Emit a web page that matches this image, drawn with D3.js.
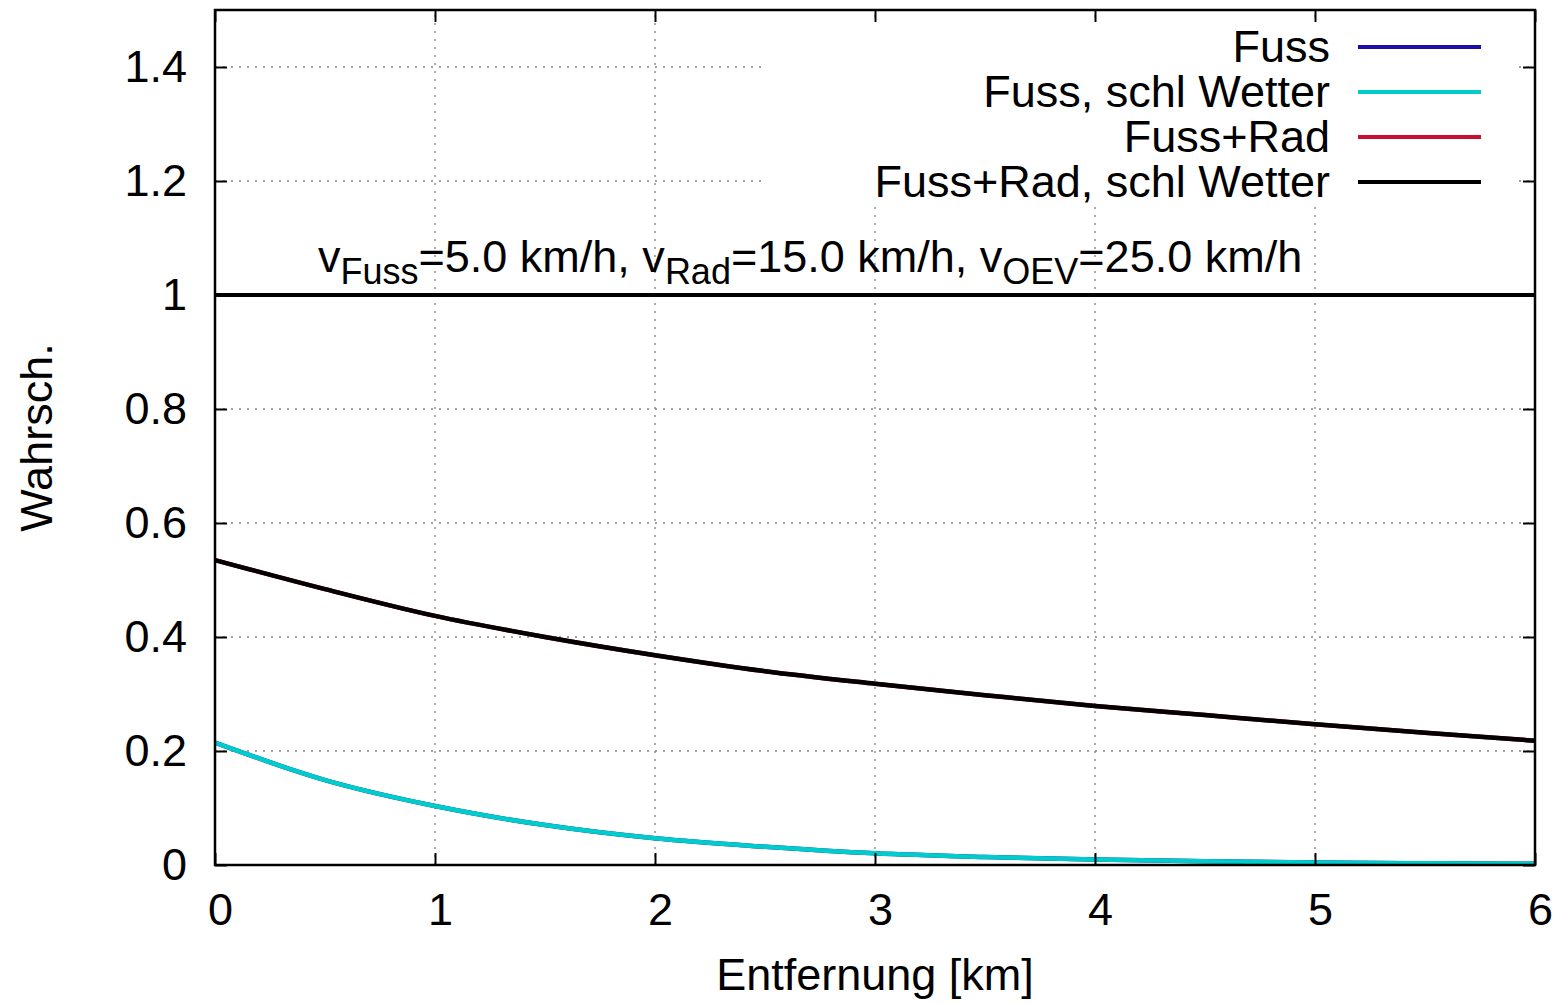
<!DOCTYPE html>
<html><head><meta charset="utf-8">
<script src="https://cdn.jsdelivr.net/npm/d3@7"></script>
<style>body{margin:0;background:#fff}svg{display:block}</style>
</head><body><svg id="c" width="1557" height="1004"></svg>
<script>
// ---- data ----
const distances = [0, 0.5, 1, 1.5, 2, 2.5, 3, 3.5, 4, 4.5, 5, 5.5, 6];
const fuss = [0.2146, 0.149, 0.1035, 0.070, 0.0468, 0.032, 0.0205, 0.014, 0.0095, 0.0065, 0.0044, 0.003, 0.002];
const fussSchlWetter = [0.2146, 0.149, 0.1035, 0.070, 0.0468, 0.032, 0.0205, 0.014, 0.0095, 0.0065, 0.0044, 0.003, 0.002];
const fussRad = [0.535, 0.484, 0.437, 0.400, 0.368, 0.340, 0.318, 0.298, 0.279, 0.263, 0.247, 0.232, 0.218];
const fussRadSchlWetter = [0.535, 0.484, 0.437, 0.400, 0.368, 0.340, 0.318, 0.298, 0.279, 0.263, 0.247, 0.232, 0.218];
const seriesNames = ["Fuss", "Fuss, schl Wetter", "Fuss+Rad", "Fuss+Rad, schl Wetter"];
const referenceLine = [1, 1];
const referenceX = [0, 6];
const xTicks = [0, 1, 2, 3, 4, 5, 6];
const yTicks = [0, 0.2, 0.4, 0.6, 0.8, 1, 1.2, 1.4];
const xLabel = "Entfernung [km]";
const yLabel = "Wahrsch.";

// ---- styles ----
const colors = ["#1c0ea6", "#00cccc", "#c8102e", "#000000"];
const FONT = "'Liberation Sans', Arial, Helvetica, sans-serif";
const FS = 45;

const svg = d3.select("#c");
const L = 215, R = 1535, T = 10, B = 865;
const x = d3.scaleLinear().domain([0, 6]).range([L, R]);
const y = d3.scaleLinear().domain([0, 1.5]).range([B, T]);

// grid
const grid = svg.append("g").attr("stroke", "#808080").attr("stroke-width", 1.3).attr("stroke-dasharray", "2,6");
grid.selectAll("line.gx").data(xTicks.slice(1, -1)).enter().append("line")
  .attr("x1", d => x(d)).attr("x2", d => x(d)).attr("y1", B).attr("y2", T);
grid.selectAll("line.gy").data(yTicks.slice(1)).enter().append("line")
  .attr("x1", L).attr("x2", R).attr("y1", d => y(d)).attr("y2", d => y(d));

// legend background (opaque)
svg.append("rect").attr("x", 765).attr("y", 22).attr("width", 748).attr("height", 183).attr("fill", "#fff");

// curves
const line = d3.line().x(d => x(d[0])).y(d => y(d[1])).curve(d3.curveCatmullRom);
const series = [fuss, fussSchlWetter, fussRad, fussRadSchlWetter];
series.forEach((s, i) => {
  svg.append("path").datum(distances.map((d, j) => [d, s[j]]))
    .attr("d", line).attr("fill", "none").attr("stroke", colors[i]).attr("stroke-width", 4.5);
});
// horizontal reference line at 1
svg.append("path").datum(referenceX.map((d, j) => [d, referenceLine[j]]))
  .attr("d", d3.line().x(d => x(d[0])).y(d => y(d[1])))
  .attr("fill", "none").attr("stroke", "#000").attr("stroke-width", 4);

// axes
function styleAxis(g) {
  g.select(".domain").remove();
  g.selectAll(".tick line").attr("stroke", "#000").attr("stroke-width", 2);
  g.selectAll(".tick text").attr("font-family", FONT).attr("font-size", FS).attr("fill", "#000");
}
const fmt = d => String(+d.toFixed(1));
svg.append("g").attr("transform", `translate(0,${B})`)
  .call(d3.axisBottom(x).tickValues(xTicks).tickFormat(fmt).tickSize(-12).tickPadding(28)).call(styleAxis)
  .selectAll(".tick text").attr("dx", 5);
svg.append("g").attr("transform", `translate(0,${T})`)
  .call(d3.axisTop(x).tickValues(xTicks).tickFormat("").tickSize(-12)).call(styleAxis);
svg.append("g").attr("transform", `translate(${L},0)`)
  .call(d3.axisLeft(y).tickValues(yTicks).tickFormat(fmt).tickSize(-12).tickPadding(28)).call(styleAxis);
svg.append("g").attr("transform", `translate(${R},0)`)
  .call(d3.axisRight(y).tickValues(yTicks).tickFormat("").tickSize(-12)).call(styleAxis);

// border
svg.append("rect").attr("x", L).attr("y", T).attr("width", R - L).attr("height", B - T)
  .attr("fill", "none").attr("stroke", "#000").attr("stroke-width", 2.5);

// legend
const legY = [47, 92, 137, 182];
seriesNames.forEach((n, i) => {
  svg.append("text").attr("x", 1330).attr("y", legY[i] + 15).attr("text-anchor", "end")
    .attr("font-family", FONT).attr("font-size", FS).text(n);
  svg.append("line").attr("x1", 1358).attr("x2", 1481).attr("y1", legY[i]).attr("y2", legY[i])
    .attr("stroke", colors[i]).attr("stroke-width", 4);
});

// annotation
const ann = svg.append("text").attr("x", 318).attr("y", 272).attr("font-family", FONT).attr("font-size", FS);
const parts = [["v", 0, FS], ["Fuss", 12, 36], ["=5.0 km/h, v", -12, FS], ["Rad", 12, 36],
  ["=15.0 km/h, v", -12, FS], ["OEV", 12, 36], ["=25.0 km/h", -12, FS]];
parts.forEach(p => ann.append("tspan").attr("dy", p[1]).attr("font-size", p[2]).text(p[0]));

// axis labels
svg.append("text").attr("x", (L + R) / 2).attr("y", 990).attr("text-anchor", "middle")
  .attr("font-family", FONT).attr("font-size", FS).text(xLabel);
svg.append("text").attr("transform", `translate(52,${(T + B) / 2}) rotate(-90)`).attr("text-anchor", "middle")
  .attr("font-family", FONT).attr("font-size", FS).text(yLabel);
</script></body></html>
